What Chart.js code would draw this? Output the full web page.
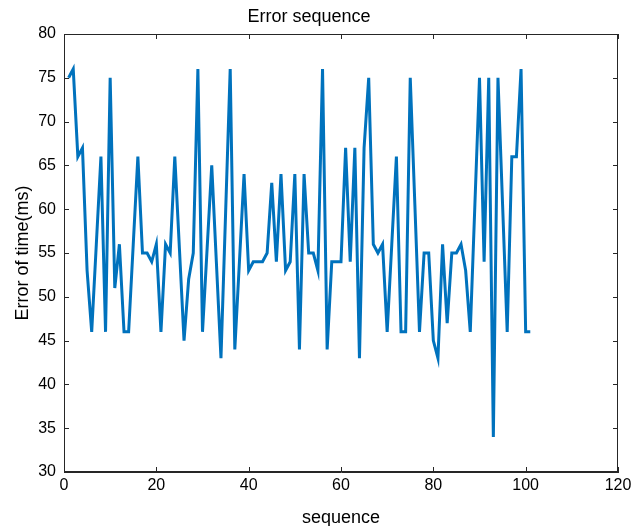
<!DOCTYPE html>
<html>
<head>
<meta charset="utf-8">
<script src="https://cdn.jsdelivr.net/npm/chart.js@4"></script>
<style>
  html, body { margin: 0; padding: 0; background: #fff; }
  #wrap { width: 644px; height: 526px; }
</style>
</head>
<body>
<div id="wrap"><canvas id="chart"></canvas></div>
<script>
// error of time (ms) for each sequence number 1..101
const errorMs = [
  75, 76, 66, 67, 53, 46, 56, 66, 46, 75,
  51, 56, 46, 46, 56, 66, 55, 55, 54, 56,
  46, 56, 55, 66, 55.5, 45, 52, 55, 76, 46,
  55.5, 65, 54, 43, 59.5, 76, 44, 54, 64, 53,
  54, 54, 54, 55, 63, 54, 64, 53, 54, 64,
  44, 64, 55, 55, 53, 76, 44, 54, 54, 54,
  67, 54, 67, 43, 67, 75, 56, 55, 56, 46,
  56, 66, 46, 46, 75, 60.5, 46, 55, 55, 45,
  43, 56, 47, 55, 55, 56, 53, 46, 60.5, 75,
  54, 75, 34, 75, 60.5, 46, 66, 66, 76, 46,
  46
];
const xTicks = [0, 20, 40, 60, 80, 100, 120];
const yTicks = [30, 35, 40, 45, 50, 55, 60, 65, 70, 75, 80];

const axisColor = '#262626';
const fontFamily = "'Liberation Sans', Arial, sans-serif";

const points = errorMs.map((v, i) => ({ x: i + 1, y: v }));

// matlab style box with inward ticks on all four sides
const boxPlugin = {
  id: 'box',
  afterDraw(chart) {
    const { ctx, chartArea: a, scales: { x, y } } = chart;
    ctx.save();
    ctx.strokeStyle = axisColor;
    ctx.lineWidth = 1;
    ctx.strokeRect(a.left + 0.5, a.top + 0.5, a.right - a.left - 1, a.bottom - a.top - 1);
    ctx.beginPath();
    xTicks.forEach(v => {
      const px = Math.round(x.getPixelForValue(v)) + 0.5;
      ctx.moveTo(px, a.bottom); ctx.lineTo(px, a.bottom - 5);
      ctx.moveTo(px, a.top); ctx.lineTo(px, a.top + 5);
    });
    yTicks.forEach(v => {
      const py = Math.round(y.getPixelForValue(v)) + 0.5;
      ctx.moveTo(a.left, py); ctx.lineTo(a.left + 5, py);
      ctx.moveTo(a.right, py); ctx.lineTo(a.right - 5, py);
    });
    ctx.stroke();
    ctx.restore();
  }
};

new Chart(document.getElementById('chart'), {
  type: 'line',
  data: {
    datasets: [{
      data: points,
      borderColor: '#0072BD',
      borderWidth: 3,
      pointRadius: 0,
      tension: 0,
      fill: false
    }]
  },
  options: {
    responsive: true,
    maintainAspectRatio: false,
    animation: false,
    layout: { padding: { left: 0, right: 26, top: 0, bottom: 0 } },
    plugins: {
      legend: { display: false },
      tooltip: { enabled: false },
      title: {
        display: true,
        text: 'Error sequence',
        color: '#000',
        font: { family: fontFamily, size: 18, weight: 'normal' },
        padding: { top: 6, bottom: 6.4 }
      }
    },
    scales: {
      x: {
        type: 'linear',
        min: 0,
        max: 120,
        afterBuildTicks: s => { s.ticks = xTicks.map(v => ({ value: v })); },
        afterFit: s => { s.height = 54; },
        ticks: { color: '#000', padding: 4, font: { family: fontFamily, size: 16 } },
        grid: { display: false, drawTicks: false },
        border: { display: true, color: axisColor, width: 1 },
        title: {
          display: true,
          text: 'sequence',
          color: '#000',
          font: { family: fontFamily, size: 18 },
          padding: { top: 0, bottom: -3 }
        }
      },
      y: {
        min: 30,
        max: 80,
        afterBuildTicks: s => { s.ticks = yTicks.map(v => ({ value: v })); },
        afterFit: s => { s.width = 64; },
        ticks: { color: '#000', padding: 8, font: { family: fontFamily, size: 16 } },
        grid: { display: false, drawTicks: false },
        border: { display: true, color: axisColor, width: 1 },
        title: {
          display: true,
          text: 'Error of time(ms)',
          color: '#000',
          font: { family: fontFamily, size: 18 },
          padding: { top: 12, bottom: 0 }
        }
      }
    }
  },
  plugins: [boxPlugin]
});
</script>
</body>
</html>
